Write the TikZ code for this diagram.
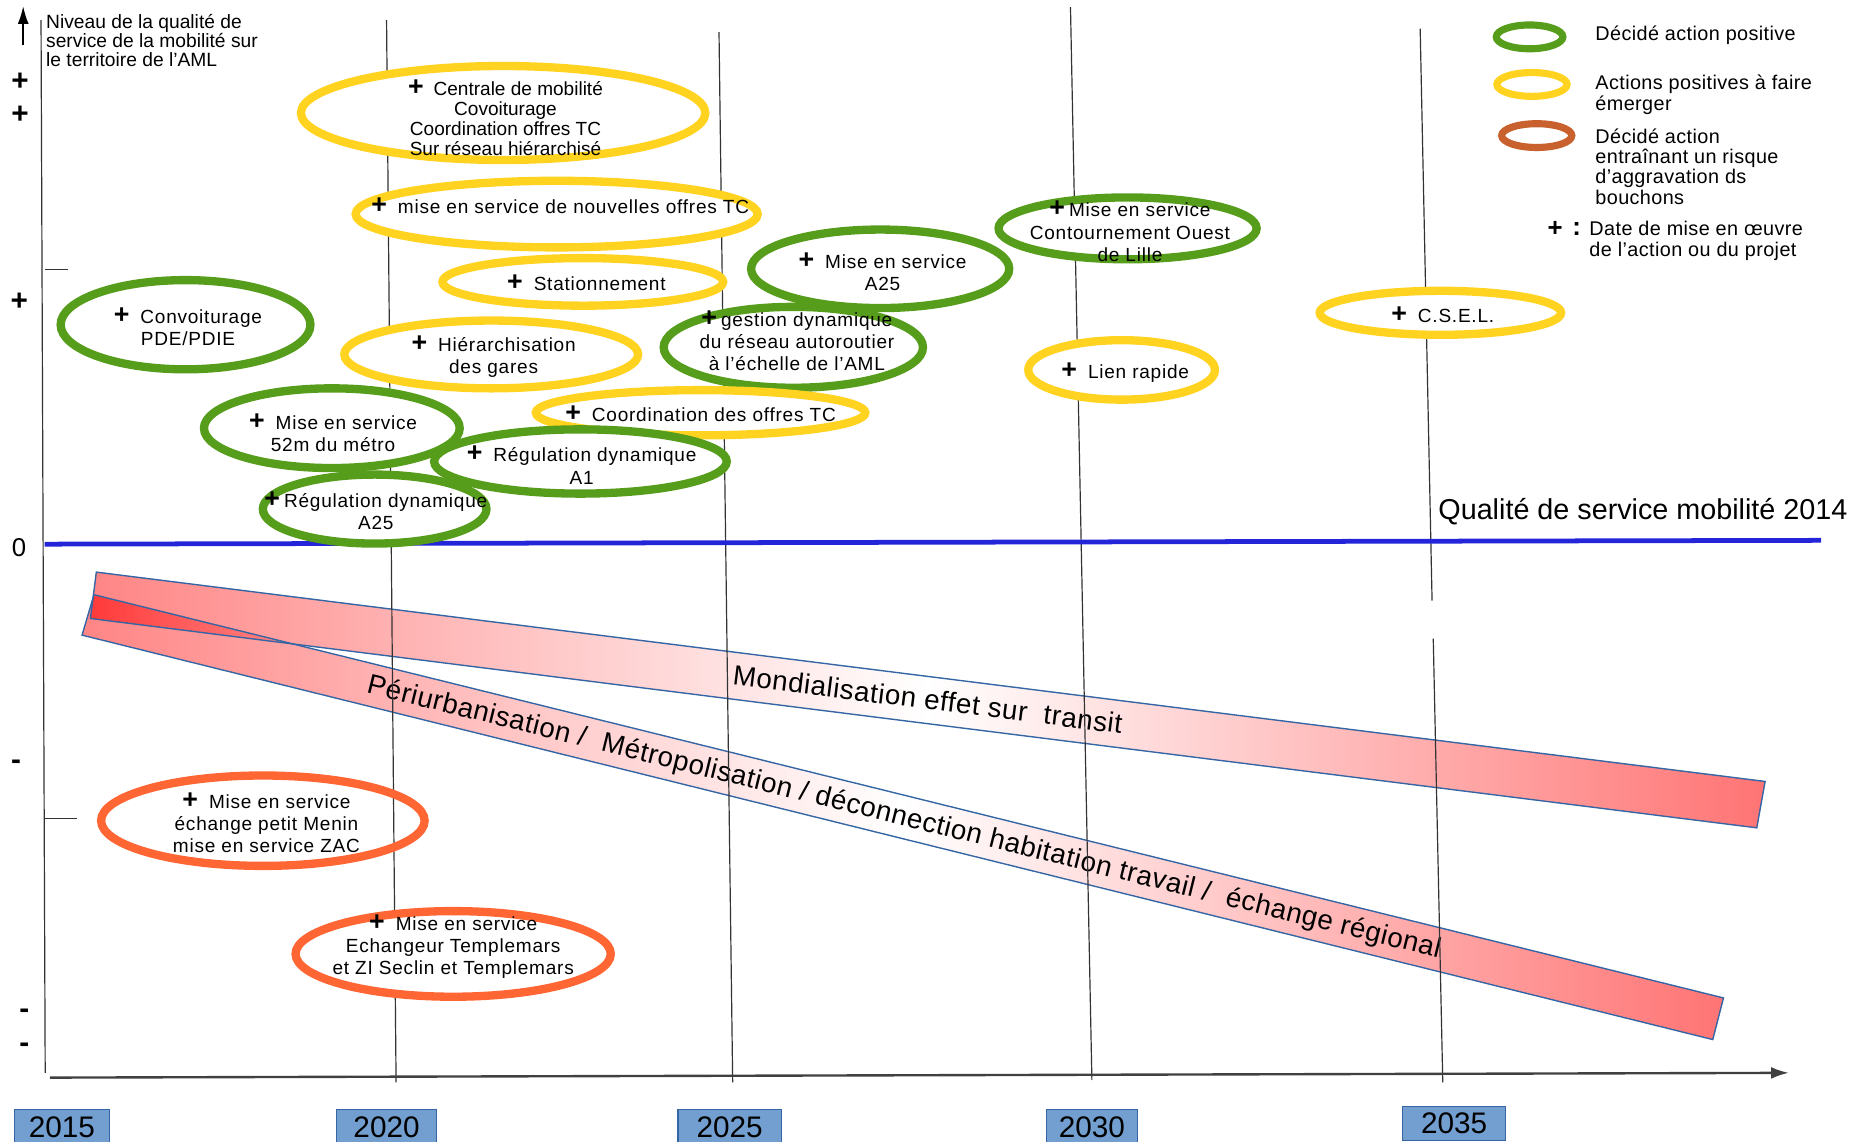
\documentclass[tikz,border=0pt]{standalone}
\usepackage{fontspec}
\setmainfont{Liberation Sans}
\newfontfamily\lsfont[LetterSpace=4]{Liberation Sans}
\newfontfamily\lstwo[LetterSpace=2]{Liberation Sans}
\usetikzlibrary{shapes.geometric,arrows.meta}
\definecolor{cgreen}{HTML}{579D1C}
\definecolor{cyellow}{HTML}{FFD320}
\definecolor{corange}{HTML}{FF6633}
\definecolor{cbrown}{HTML}{C8612E}
\definecolor{cblue}{HTML}{2424D8}
\definecolor{cbox}{HTML}{729FCF}
\definecolor{cboxb}{HTML}{3465A4}
\definecolor{credl}{HTML}{FF8585}
\definecolor{credr}{HTML}{FF7474}
\definecolor{cdark}{HTML}{FF3A3A}
\newcommand\pl{{\fontsize{13.5}{12}\selectfont\textbf{+}}\hspace{5pt}}
\newcommand\plt{{\fontsize{13.5}{12}\selectfont\textbf{+}}\hspace{1.5pt}}
\begin{document}
\begin{tikzpicture}[x=0.6pt,y=-0.6pt,
  ell/.style n args={3}{ellipse, draw=#1, line width=4.2pt, fill=white,
     minimum width=#2*0.6pt, minimum height=#3*0.6pt, inner sep=0pt, outer sep=0pt},
  gell/.style 2 args={ell={cgreen}{#1}{#2}},
  yell/.style 2 args={ell={cyellow}{#1}{#2}},
  oell/.style 2 args={ell={corange}{#1}{#2}},
  legell/.style 2 args={ellipse, draw=#1, line width=3.6pt, fill=white,
     minimum width=#2*0.6pt, minimum height=20*0.6pt, inner sep=0pt},
  lbl/.style={align=center, inner sep=0pt, font=\lsfont\fontsize{9.6}{11.2}\selectfont},
  legtxt/.style={align=left, anchor=west, inner sep=0pt, font=\lstwo\fontsize{10}{10.3}\selectfont},
  gridln/.style={draw=black!80, line width=0.6pt},
  yearbox/.style={draw=cboxb, fill=cbox, line width=0.6pt, inner sep=0pt,
     minimum height=30*0.6pt, font=\fontsize{15}{16}\selectfont},
  band/.style={draw=cboxb, line width=0.7pt},
  bandtxt/.style={inner sep=0pt, font=\lstwo\fontsize{14}{16}\selectfont},
  ylab/.style={inner sep=0pt, font=\fontsize{15}{15}\selectfont\bfseries}
]
\useasboundingbox (0,0) rectangle (1568,960);

% trend bands
\path[left color=credl, right color=credr, middle color=white]
  (79,500) -- (1449,839) -- (1440,874) -- (69,534) -- cycle;
\path[left color=credl, right color=credr, middle color=white]
  (81,481) -- (1484,657) -- (1477,696) -- (76,520) -- cycle;
\path[left color=cdark, right color=credl] (79,500) -- (246,541) -- (76,520) -- cycle;
\draw[band] (79,500) -- (1449,839) -- (1440,874) -- (69,534) -- cycle;
\draw[band] (81,481) -- (1484,657) -- (1477,696) -- (76,520) -- cycle;
\node[bandtxt, rotate=-7.15] (mond) at (780,588) {Mondialisation effet sur\ \ transit};
\node[bandtxt, rotate=-13.9] (peri) at (760,688) {Périurbanisation /\ \ Métropolisation / déconnection habitation travail /\ \ échange régional};

% grid lines and axes
\draw[gridln] (325,17) -- (333,910);
\draw[gridln] (604.5,27) -- (616,910);
\draw[gridln] (900,6) -- (918,908);
\draw[gridln] (1194,24) -- (1204,505);
\draw[gridln] (1205,537) -- (1213,910);
\draw[gridln] (34.5,17) -- (38,902);
\draw[gridln] (37.8,226.4) -- (57.4,226.4);
\draw[gridln] (37,688.3) -- (64.8,688.3);
\draw[draw=black!75, line width=1.2pt, -{Latex[length=9pt,width=6pt]}] (42,906) -- (1504,902);
\draw[line width=1pt, -{Latex[length=9pt,width=5.5pt]}] (19.5,38) -- (19.5,5);
\draw[cblue, line width=2.4pt] (37.5,457.5) -- (1531,454.3);

% axis labels
\node[inner sep=0pt, anchor=north west, align=left, font=\fontsize{9.7}{9.6}\selectfont] (ytitle) at (38.5,12)
  {Niveau de la qualité de\\service de la mobilité sur\\le territoire de l’AML};
\node[ylab] (p1) at (16.8,68.7) {+};
\node[ylab] (p2) at (16.8,96.7) {+};
\node[ylab] (p3) at (16.3,253.6) {+};
\node[inner sep=0pt, font=\fontsize{13}{13}\selectfont] (z0) at (16,460) {0};
\node[ylab] (m1) at (13.5,643) {-};
\node[ylab] (m2) at (20.5,852) {-};
\node[ylab] (m3) at (20.5,881) {-};
\node[inner sep=0pt, anchor=west, font=\fontsize{14.5}{16}\selectfont] (qual) at (1209,430) {Qualité de service mobilité 2014};

% year boxes
\node[yearbox, minimum width=80*0.6pt, anchor=north] (y15) at (52,932.6) {2015};
\node[yearbox, minimum width=84*0.6pt, anchor=north] (y20) at (325,932.6) {2020};
\node[yearbox, minimum width=87*0.6pt, anchor=north] (y25) at (613.5,932.6) {2025};
\node[yearbox, minimum width=76*0.6pt, anchor=north] (y30) at (918,932.6) {2030};
\node[yearbox, minimum width=87*0.6pt, minimum height=29*0.6pt, anchor=north] (y35) at (1222.5,929.6) {2035};

% ellipses
\node[yell={340}{79}] (e1) at (423,95) {};
\node[yell={338}{56}] (e2) at (468,180) {};
\node[yell={236}{40}] (e3) at (490,237) {};
\node[gell={210}{75}] (e4) at (156,273) {};
\node[yell={247}{57}] (e5) at (413,298) {};
\node[gell={217}{66}] (e6) at (740,226) {};
\node[gell={218}{68}] (e7) at (667,292) {};
\node[yell={277}{38}] (e11) at (589,347) {};
\node[gell={215}{67}] (e12) at (279,360) {};
\node[gell={188}{58}] (e14) at (315,428) {};
\node[gell={246}{54}] (e13) at (488,388) {};
\node[gell={217}{52}] (e8) at (948,192) {};
\node[yell={157}{50}] (e9) at (943,311) {};
\node[yell={203}{37}] (e10) at (1211,263) {};
\node[oell={272}{76}, fill=none] (e15) at (221,690) {};
\node[oell={265}{72}] (e16) at (381,802) {};

% ellipse texts
\node[lbl, font=\fontsize{9.6}{10.2}\selectfont] (t1) at (425,99) {\pl Centrale de mobilité\\Covoiturage\\Coordination offres TC\\Sur réseau hiérarchisé};
\node[lbl] (t2) at (471,173) {\pl mise en service de nouvelles offres TC};
\node[lbl] (t3) at (493,238) {\pl Stationnement};
\node[lbl] (t4) at (158,275) {\pl Convoiturage\\PDE/PDIE};
\node[lbl] (t5) at (415,300) {\pl Hiérarchisation\\des gares};
\node[lbl] (t6) at (742,228.5) {\pl Mise en service\\A25};
\node[lbl] (t7) at (670,286.5) {\plt gestion dynamique\\du réseau autoroutier\\à l’échelle de l’AML};
\node[lbl] (t8) at (950,194.5) {\plt Mise en service\\Contournement Ouest\\de Lille};
\node[lbl] (t9) at (946,313) {\pl Lien rapide};
\node[lbl] (t10) at (1213,265) {\pl C.S.E.L.};
\node[lbl] (t11) at (589,348) {\pl Coordination des offres TC};
\node[lbl] (t12) at (280,363.5) {\pl Mise en service\\52m du métro};
\node[lbl] (t13) at (489,391) {\pl Régulation dynamique\\A1};
\node[lbl] (t14) at (316,429.5) {\plt Régulation dynamique\\A25};
\node[lbl] (t15) at (224,691.5) {\pl Mise en service\\échange petit Menin\\mise en service ZAC};
\node[lbl] (t16) at (381,796) {\pl Mise en service\\Echangeur Templemars\\et ZI Seclin et Templemars};

% legend
\node[legell={cgreen}{56}] (lg1) at (1286,31) {};
\node[legell={cyellow}{59}] (lg2) at (1288,71) {};
\node[legell={cbrown}{59}] (lg3) at (1292,114) {};
\node[legtxt] (lt1) at (1341,29.4) {Décidé action positive};
\node[legtxt] (lt2) at (1341,79.8) {Actions positives à faire\\émerger};
\node[legtxt] (lt3) at (1341,140) {Décidé action\\entraînant un risque\\d’aggravation ds\\bouchons};
\node[ylab, font=\fontsize{13}{13}\selectfont\bfseries] (lp) at (1307.4,192.5) {+};
\node[ylab, font=\fontsize{13}{13}\selectfont\bfseries] (lc) at (1325.6,192.5) {:};
\node[legtxt] (lt4) at (1336,202.5) {Date de mise en œuvre\\de l’action ou du projet};
\end{tikzpicture}
\end{document}
